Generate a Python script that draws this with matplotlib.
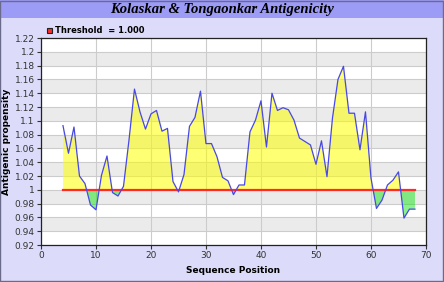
import matplotlib
matplotlib.use("Agg")
import matplotlib.pyplot as plt
import numpy as np
from matplotlib.patches import Rectangle

# Kolaskar & Tongaonkar antigenicity profile
positions = list(range(4, 69))
scores = [1.093, 1.053, 1.091, 1.020, 1.009, 0.978, 0.971, 1.021, 1.049, 0.996,
          0.991, 1.005, 1.072, 1.146, 1.113, 1.088, 1.110, 1.115, 1.085, 1.089,
          1.012, 0.997, 1.022, 1.092, 1.105, 1.143, 1.067, 1.067, 1.048, 1.018,
          1.013, 0.993, 1.007, 1.007, 1.084, 1.101, 1.129, 1.062, 1.140, 1.115,
          1.119, 1.116, 1.101, 1.075, 1.070, 1.065, 1.037, 1.071, 1.019, 1.104,
          1.160, 1.179, 1.111, 1.111, 1.058, 1.113, 1.017, 0.973, 0.985, 1.007,
          1.014, 1.026, 0.959, 0.972, 0.972]
threshold = 1.0
x_ticks = [0, 10, 20, 30, 40, 50, 60, 70]
y_ticks = [0.92, 0.94, 0.96, 0.98, 1.0, 1.02, 1.04, 1.06, 1.08, 1.1,
           1.12, 1.14, 1.16, 1.18, 1.2, 1.22]
y_labels = ["0.92", "0.94", "0.96", "0.98", "1", "1.02", "1.04", "1.06", "1.08",
            "1.1", "1.12", "1.14", "1.16", "1.18", "1.2", "1.22"]

bg = "#dcdcfa"
fig = plt.figure(figsize=(4.44, 2.82), dpi=100, facecolor=bg)

# title bar
fig.patches.append(Rectangle((0, 0.936), 1, 0.064, transform=fig.transFigure,
                             facecolor="#9c9cf6", edgecolor="none", zorder=0))
fig.patches.append(Rectangle((0.001, 0.002), 0.996, 0.996, transform=fig.transFigure,
                             facecolor="none", edgecolor="#6a6a8a", lw=1.0, zorder=1))
fig.text(0.5, 0.967, "Kolaskar & Tongaonkar Antigenicity", ha="center", va="center",
         fontsize=10.5, fontweight="bold", fontstyle="italic", family="Liberation Serif")

ax = fig.add_axes([0.0923, 0.1312, 0.8671, 0.734])
ax.set_xlim(0, 70)
ax.set_ylim(0.92, 1.22)

# alternating bands
for k in range(len(y_ticks) - 1):
    c = "white" if k % 2 == 0 else "#ebebeb"
    ax.axhspan(y_ticks[k], y_ticks[k + 1], facecolor=c, edgecolor="none", zorder=0)

for yv in y_ticks:
    ax.axhline(yv, color="#cccccc", lw=0.8, zorder=1)
for xv in x_ticks:
    ax.axvline(xv, color="#cccccc", lw=0.8, zorder=1)

x = np.array(positions)
y = np.array(scores)
ax.fill_between(x, y, threshold, where=y >= threshold, interpolate=True,
                facecolor="#ffff00", alpha=0.55, lw=0, zorder=2)
ax.fill_between(x, y, threshold, where=y <= threshold, interpolate=True,
                facecolor="#00e600", alpha=0.45, lw=0, zorder=2)
ax.plot([positions[0], positions[-1]], [threshold, threshold], color="#ff2a2a",
        lw=1.6, zorder=3)
ax.plot(x, y, color="#4848e6", lw=0.9, zorder=4)

ax.set_xticks(x_ticks)
ax.set_yticks(y_ticks)
ax.set_yticklabels(y_labels)
ax.tick_params(labelsize=6.5, length=3, width=0.8, colors="#333333", pad=1.5)
for s in ax.spines.values():
    s.set_color("#222222")
    s.set_linewidth(0.9)

ax.set_xlabel("Sequence Position", fontsize=6.5, fontweight="bold", labelpad=4)
ax.set_ylabel("Antigenic propensity", fontsize=6.5, fontweight="bold")
ax.yaxis.set_label_coords(-0.078, 0.5)

# legend
fig.patches.append(Rectangle((47 / 444, 1 - 33 / 282), 5 / 444, 5 / 282,
                             transform=fig.transFigure, facecolor="#ff2a2a",
                             edgecolor="#202020", lw=0.8))
fig.text(55 / 444, 1 - 30.5 / 282, "Threshold  = 1.000", ha="left", va="center",
         fontsize=6, fontweight="bold")

fig.savefig("out.png", dpi=100, facecolor=bg)
